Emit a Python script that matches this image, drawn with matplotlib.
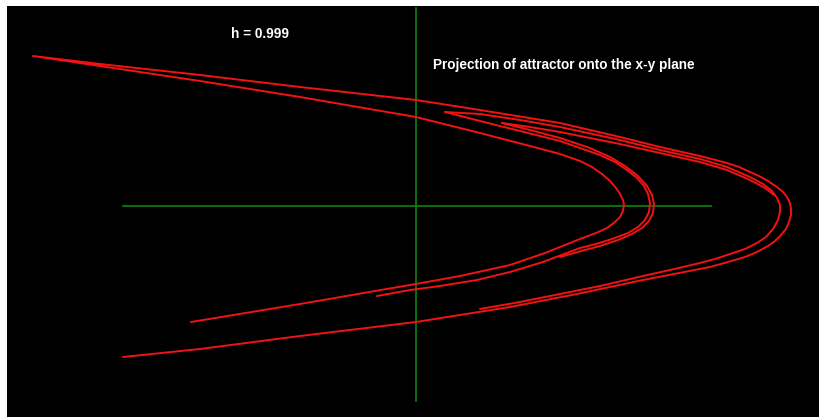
import matplotlib
matplotlib.use("Agg")
import matplotlib.pyplot as plt

# x-y projection of the attractor
# main curve: lower outer arm -> right vertex -> upper outer arm -> left tip
#             -> inner upper arm -> inner vertex -> inner lower arm
main_x = [-2.93, -2.16, -1.16, 0.00, 0.94, 1.61, 2.27, 2.94, 3.12, 3.29,
          3.41, 3.52, 3.59, 3.65, 3.70, 3.73, 3.75, 3.75, 3.74, 3.71, 3.67,
          3.61, 3.52, 3.43, 3.34, 3.23, 3.11, 2.84, 2.44, 2.04, 1.44, 0.64,
          0.00, -1.16, -2.16, -3.16, -3.83,
          -3.16, -2.16, -1.16, 0.00, 0.64, 1.14, 1.44, 1.64, 1.76, 1.86,
          1.94, 2.00, 2.04, 2.07, 2.08, 2.07, 2.04, 1.99, 1.91, 1.80, 1.64,
          1.29, 0.94, 0.44, -0.06, -1.16, -2.25]
main_y = [-1.51, -1.43, -1.30, -1.16, -1.01, -0.88, -0.74, -0.61, -0.56,
          -0.51, -0.46, -0.40, -0.35, -0.29, -0.23, -0.16, -0.09, -0.03, 0.03,
          0.09, 0.14, 0.19, 0.25, 0.30, 0.34, 0.39, 0.43, 0.50, 0.59, 0.69,
          0.83, 0.96, 1.06, 1.19, 1.31, 1.42, 1.50,
          1.40, 1.25, 1.09, 0.89, 0.73, 0.60, 0.52, 0.45, 0.39, 0.32, 0.25,
          0.18, 0.12, 0.06, 0.01, -0.05, -0.11, -0.16, -0.22, -0.27, -0.33,
          -0.47, -0.59, -0.70, -0.79, -0.98, -1.16]

# first fold: branch along the upper band round the right vertex,
# and branch round the middle vertex
fold1_up_x = [0.29, 0.64, 1.04, 1.44, 2.04, 2.44, 2.84, 3.11, 3.34, 3.47,
              3.56, 3.61, 3.64, 3.64, 3.62, 3.57, 3.50, 3.41, 3.29, 3.14,
              2.99, 2.84, 2.54, 2.27, 1.84, 1.44, 1.04, 0.64]
fold1_up_y = [0.94, 0.92, 0.86, 0.79, 0.66, 0.56, 0.47, 0.39, 0.29, 0.22,
              0.15, 0.08, 0.01, -0.06, -0.14, -0.23, -0.31, -0.37, -0.43,
              -0.48, -0.53, -0.57, -0.64, -0.70, -0.80, -0.88, -0.96, -1.03]
fold1_lo_x = [0.29, 0.64, 1.04, 1.44, 1.64, 1.84, 1.99, 2.11, 2.21, 2.28,
              2.32, 2.34, 2.33, 2.29, 2.22, 2.12, 1.96, 1.80, 1.64, 1.27,
              0.94, 0.61, 0.24, -0.06, -0.39]
fold1_lo_y = [0.94, 0.85, 0.75, 0.65, 0.58, 0.51, 0.44, 0.36, 0.28, 0.20,
              0.12, 0.03, -0.06, -0.14, -0.21, -0.27, -0.33, -0.38, -0.42,
              -0.56, -0.66, -0.74, -0.80, -0.84, -0.90]

# second fold
fold2_up_x = [0.86, 1.14, 1.44, 2.04, 2.44, 2.84, 3.11, 3.34, 3.49, 3.58]
fold2_up_y = [0.83, 0.79, 0.74, 0.62, 0.53, 0.44, 0.36, 0.26, 0.18, 0.11]
fold2_lo_x = [0.86, 1.14, 1.44, 1.74, 1.94, 2.09, 2.22, 2.31, 2.36, 2.38,
              2.37, 2.33, 2.26, 2.16, 2.02, 1.84, 1.69, 1.44]
fold2_lo_y = [0.83, 0.76, 0.68, 0.58, 0.49, 0.40, 0.30, 0.20, 0.11, 0.02,
              -0.07, -0.15, -0.22, -0.28, -0.34, -0.40, -0.44, -0.51]

# coordinate axes drawn inside the plot
haxis_x = [-2.93, 2.95]
vaxis_y = [-1.95, 1.98]

title = "Projection of attractor onto the x-y plane"
param = "h = 0.999"

red = "#f21212"
green = "#0b870b"

fig = plt.figure(figsize=(8.19, 4.17), dpi=100, facecolor="white")
ax = fig.add_axes([7 / 819, 0, 812 / 819, 411 / 417])
ax.set_facecolor("black")
ax.set_xlim(-4.09, 4.03)
ax.set_ylim(-2.11, 2.00)
ax.axis("off")
ax.add_patch(plt.Rectangle((0, 0), 1, 1, transform=ax.transAxes,
                           color="black", zorder=0))

ax.plot(haxis_x, [0, 0], color=green, lw=1.2, zorder=1)
ax.plot([0, 0], vaxis_y, color=green, lw=1.2, zorder=1)

for xs, ys in [(main_x, main_y), (fold1_up_x, fold1_up_y),
               (fold1_lo_x, fold1_lo_y), (fold2_up_x, fold2_up_y),
               (fold2_lo_x, fold2_lo_y)]:
    ax.plot(xs, ys, color=red, lw=1.4, solid_joinstyle="round",
            solid_capstyle="round", zorder=2)

fig.text(231 / 819, (417 - 38) / 417, param, color="white", fontsize=9.8,
         fontweight="bold", family="Liberation Sans", va="baseline")
fig.text(433 / 819, (417 - 69) / 417, title, color="white", fontsize=9.8,
         fontweight="bold", family="Liberation Sans", va="baseline")

fig.savefig("out.png", dpi=100, facecolor="white")
